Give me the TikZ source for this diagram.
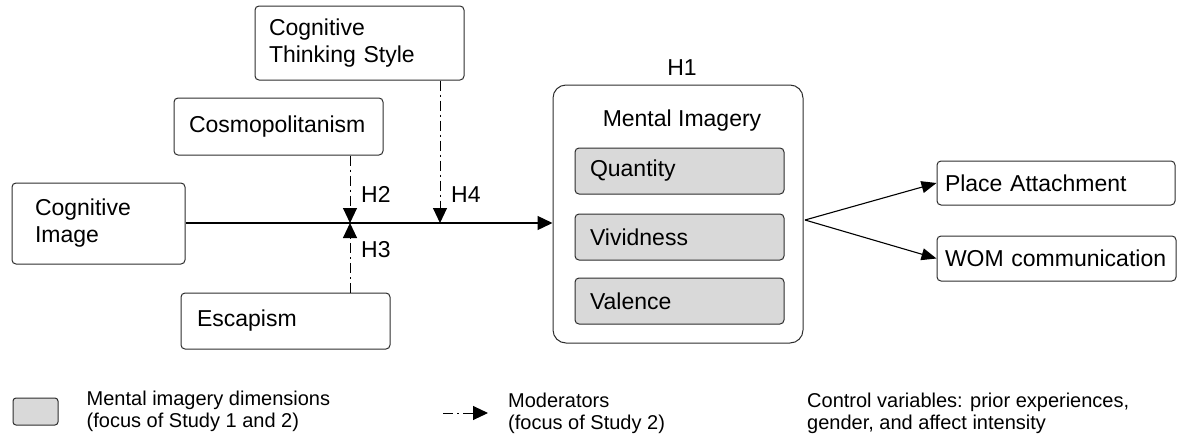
\documentclass[tikz,border=0pt]{standalone}
\usepackage{fontspec}
\setmainfont{Liberation Sans}
\usetikzlibrary{arrows.meta,positioning}
\definecolor{dimgray}{RGB}{217,217,217}
\definecolor{linegray}{RGB}{45,45,45}

\begin{document}
\begin{tikzpicture}[x=1pt,y=-1pt,
  box/.style={draw=linegray, rounded corners=4pt, line width=1pt, align=left, inner ysep=0pt, font=\fontsize{23}{27}\selectfont},
  dim/.style={box, fill=dimgray},
  lbl/.style={inner sep=0pt, font=\fontsize{23}{27}\selectfont},
  legtxt/.style={inner sep=0pt, align=left, font=\fontsize{20}{22}\selectfont},
  link/.style={-{Triangle[length=15pt,width=14pt]}, line width=1.3pt},
  mod/.style={-{Triangle[length=15pt,width=14pt]}, line width=1pt, dash pattern=on 10pt off 4pt on 2pt off 4pt}]
\useasboundingbox (0,0) rectangle (1177,442);
% antecedent and moderators
\node[box, text width=181pt, inner xsep=14pt, minimum height=74pt] (cts) at (359.5,43) {Cognitive\\Thinking Style};
\node[box, text width=179pt, inner xsep=15pt, minimum height=57pt] (cosmo) at (278.5,126.5) {Cosmopolitanism};
\node[box, text width=127pt, inner xsep=23pt, minimum height=81pt] (cogimg) at (98.5,223.5) {Cognitive\\Image};
\node[box, text width=177pt, inner xsep=16pt, minimum height=56pt] (esc) at (285.5,321) {Escapism};
% mental imagery block
\node[box, rounded corners=13pt, minimum width=250pt, minimum height=258pt] (mi) at (678,214) {};
\node[lbl, anchor=base] (mitxt) at (682,126) {Mental Imagery};
\node[lbl, anchor=base] (h1) at (682,75) {H1};
\node[dim, text width=179pt, inner xsep=15pt, minimum height=46pt] (qty) at (679.5,171) {Quantity};
\node[dim, text width=179pt, inner xsep=15pt, minimum height=46pt] (viv) at (679.5,237) {Vividness};
\node[dim, text width=179pt, inner xsep=15pt, minimum height=46pt] (val) at (679.5,301) {Valence};
% outcomes
\node[box, text width=222pt, inner xsep=8pt, minimum height=44pt] (pa) at (1056,183) {Place Attachment};
\node[box, text width=223pt, inner xsep=8pt, minimum height=45pt] (wom) at (1056.5,258.5) {WOM communication};
% main path
\coordinate (j1) at (350,223);
\coordinate (j2) at (440,223);
\draw[link] (cogimg.east |- j1) -- (mi.west |- j1);
\draw[mod] (j1 |- cosmo.south) -- (j1);
\draw[mod] (j1 |- esc.north) -- (j1);
\draw[mod] (j2 |- cts.south) -- (j2);
\node[lbl, anchor=west] (h2) at (361,194.5) {H2};
\node[lbl, anchor=west] (h3) at (361,250) {H3};
\node[lbl, anchor=west] (h4) at (451,194.5) {H4};
\coordinate (fan) at (805,220);
\draw[link, -{Triangle[length=15pt,width=12pt]}, line width=1.1pt] (fan) -- (pa.west);
\draw[link, -{Triangle[length=15pt,width=12pt]}, line width=1.1pt] (fan) -- (wom.west);
% legend
\node[dim, rounded corners=3pt, minimum width=45pt, minimum height=27pt] (legdim) at (35.5,411.5) {};
\node[legtxt, right=28pt of legdim] (legdimtxt) {Mental imagery dimensions\\(focus of Study 1 and 2)};
\coordinate (moda) at (443,413);
\coordinate (modb) at (488,413);
\draw[mod] (moda) -- (modb);
\node[legtxt, right=20pt of modb] (legmodtxt) {Moderators\\(focus of Study 2)};
\node[legtxt, anchor=west] (legctrl) at (807,413) {Control variables: prior experiences,\\gender, and affect intensity};
\end{tikzpicture}
\end{document}
